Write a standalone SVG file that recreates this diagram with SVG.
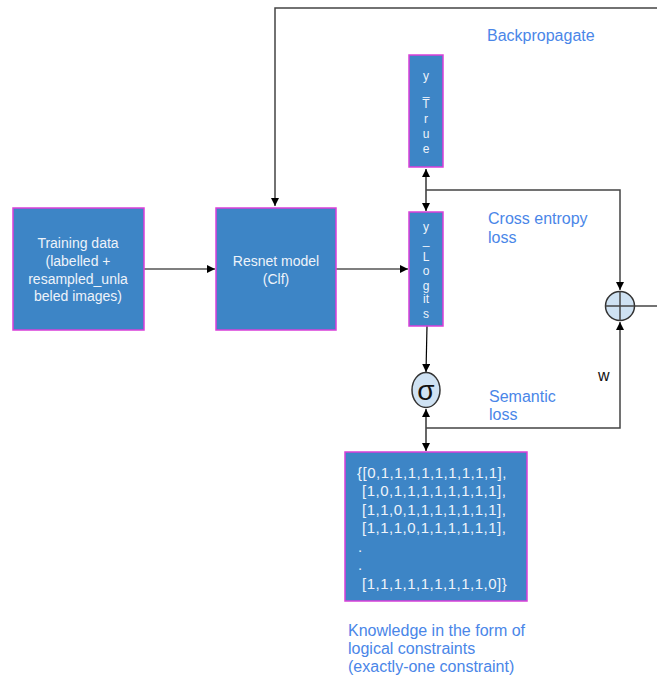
<svg xmlns="http://www.w3.org/2000/svg" width="657" height="679" viewBox="0 0 657 679">
<defs>
<marker id="ah" viewBox="0 0 10 10" refX="10" refY="5" markerWidth="8" markerHeight="8" markerUnits="userSpaceOnUse" orient="auto-start-reverse">
<path d="M0,0 L10,5 L0,10 z" fill="#000"/>
</marker>
<style>
.box{fill:#3d85c6;stroke:#d93fd9;stroke-width:1.5}
.bt{font-family:"Liberation Sans",Arial,sans-serif;font-size:14px;fill:#eef3fa;text-anchor:middle}
.vt{font-family:"Liberation Sans",Arial,sans-serif;font-size:12px;fill:#eef3fa;text-anchor:middle}
.kt{font-family:"Liberation Sans",Arial,sans-serif;font-size:15px;letter-spacing:0.5px;fill:#eef3fa}
.lbl{font-family:"Liberation Sans",Arial,sans-serif;font-size:16px;fill:#4a86e8}
.ln{fill:none;stroke:#000;stroke-width:1.2}
.gl{fill:none;stroke:#444;stroke-width:1.5}
.op{fill:#cfe2f3;stroke:#333;stroke-width:1.5}
</style>
</defs>

<g id="connectors">
<polyline class="gl" points="657,8 275,8 275,206" marker-end="url(#ah)"/>
<line class="ln" x1="144" y1="269" x2="215" y2="269" marker-end="url(#ah)"/>
<line class="ln" x1="336" y1="269" x2="408" y2="269" marker-end="url(#ah)"/>
<line class="ln" x1="426" y1="169" x2="426" y2="211" marker-start="url(#ah)" marker-end="url(#ah)"/>
<polyline class="gl" points="426,190 620,190 620,290" marker-end="url(#ah)"/>
<line class="ln" x1="427" y1="326" x2="426" y2="372" marker-end="url(#ah)"/>
<line class="ln" x1="426" y1="409" x2="426" y2="451" marker-start="url(#ah)" marker-end="url(#ah)"/>
<polyline class="gl" points="426,428 620,428 620,322" marker-end="url(#ah)"/>
<line class="gl" x1="635" y1="306" x2="657" y2="306"/>
</g>

<g id="training">
<rect class="box" x="13" y="208" width="131" height="122"/>
<text class="bt" x="78" y="248">Training data</text>
<text class="bt" x="78" y="266">(labelled +</text>
<text class="bt" x="78" y="284">resampled_unla</text>
<text class="bt" x="78" y="301">beled images)</text>
</g>

<g id="resnet">
<rect class="box" x="216" y="208" width="120" height="122"/>
<text class="bt" x="276" y="266">Resnet model</text>
<text class="bt" x="276" y="284">(Clf)</text>
</g>

<g id="ytrue">
<rect class="box" x="409" y="55" width="34" height="112"/>
<text class="vt" x="426" y="80">y</text>
<text class="vt" x="426" y="95">_</text>
<text class="vt" x="426" y="108">T</text>
<text class="vt" x="426" y="123">r</text>
<text class="vt" x="426" y="138">u</text>
<text class="vt" x="426" y="153">e</text>
</g>

<g id="ylogits">
<rect class="box" x="409" y="212" width="34" height="114"/>
<text class="vt" x="426" y="231">y</text>
<text class="vt" x="426" y="244">_</text>
<text class="vt" x="426" y="261">L</text>
<text class="vt" x="426" y="275">o</text>
<text class="vt" x="426" y="290">g</text>
<text class="vt" x="426" y="303">it</text>
<text class="vt" x="426" y="318">s</text>
</g>

<g id="sum">
<circle class="op" cx="620" cy="306" r="14.5"/>
<line class="gl" x1="605.5" y1="306" x2="634.5" y2="306"/>
<line class="gl" x1="620" y1="291.5" x2="620" y2="320.5"/>
</g>

<g id="sigma">
<ellipse class="op" cx="426" cy="390" rx="14" ry="17.5"/>
<text x="426" y="400" text-anchor="middle" font-family="'Liberation Sans',Arial,sans-serif" font-size="28" fill="#111">σ</text>
</g>

<g id="knowledge">
<rect class="box" x="345" y="452" width="182" height="149"/>
<text class="kt" x="357" y="478">{[0,1,1,1,1,1,1,1,1,1],</text>
<text class="kt" x="362" y="496">[1,0,1,1,1,1,1,1,1,1],</text>
<text class="kt" x="362" y="515">[1,1,0,1,1,1,1,1,1,1],</text>
<text class="kt" x="362" y="533">[1,1,1,0,1,1,1,1,1,1],</text>
<text class="kt" x="358" y="552">.</text>
<text class="kt" x="358" y="570">.</text>
<text class="kt" x="362" y="589">[1,1,1,1,1,1,1,1,1,0]}</text>
</g>

<g id="labels">
<text class="lbl" x="487" y="41">Backpropagate</text>
<text class="lbl" x="488" y="224">Cross entropy</text>
<text class="lbl" x="488" y="243">loss</text>
<text class="lbl" x="489" y="402">Semantic</text>
<text class="lbl" x="489" y="420">loss</text>
<text x="598" y="381" font-family="'Liberation Sans',Arial,sans-serif" font-size="16" fill="#111">w</text>
<text class="lbl" x="348" y="636">Knowledge in the form of</text>
<text class="lbl" x="348" y="654">logical constraints</text>
<text class="lbl" x="348" y="672">(exactly-one constraint)</text>
</g>
</svg>
